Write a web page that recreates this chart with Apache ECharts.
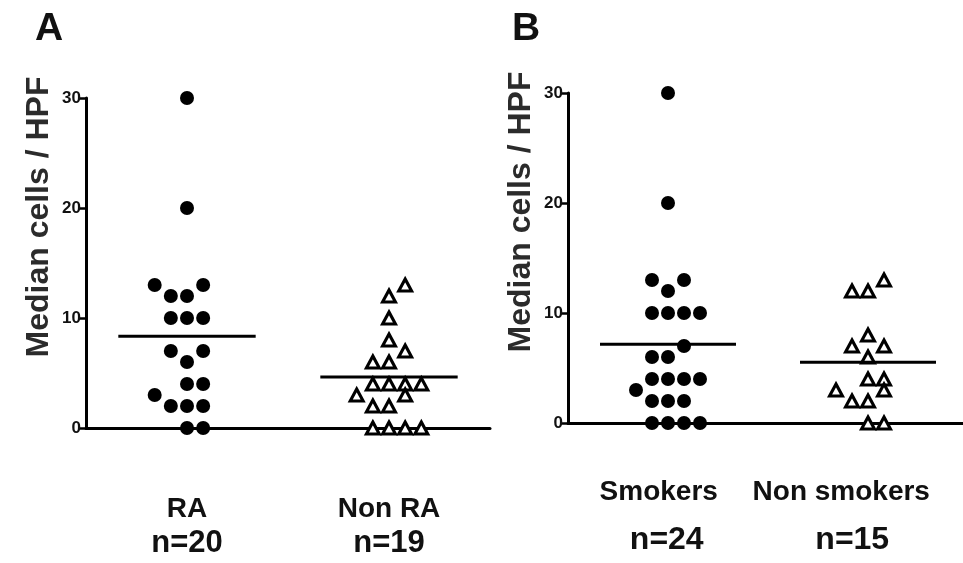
<!DOCTYPE html>
<html>
<head>
<meta charset="utf-8">
<script src="https://cdn.jsdelivr.net/npm/echarts@6/dist/echarts.min.js"></script>
<style>
html,body{margin:0;padding:0;background:#fff;}
#chart{width:963px;height:563px;}
</style>
</head>
<body>
<div id="chart"></div>
<script>
// ---- data ----
const panelLetters = ['A', 'B'];
const yAxisTitle = 'Median cells / HPF';
const yTicks = [0, 10, 20, 30];

const categoriesA = ['RA', 'Non RA'];
const countsA = ['n=20', 'n=19'];
const categoriesB = ['Smokers', 'Non smokers'];
const countsB = ['n=24', 'n=15'];

// values and their column slot in the dot plot (slot = horizontal column index)
const raValues = [30, 20, 13, 13, 12, 12, 10, 10, 10, 7, 7, 6, 4, 4, 3, 2, 2, 2, 0, 0];
const raSlots  = [0, 0, -2, 1, -1, 0, -1, 0, 1, -1, 1, 0, 0, 1, -2, -1, 0, 1, 0, 1];

const nonRaValues = [13, 12, 10, 8, 7, 6, 6, 4, 4, 4, 4, 3, 3, 2, 2, 0, 0, 0, 0];
const nonRaSlots  = [1, 0, 0, 0, 1, -1, 0, -1, 0, 1, 2, -2, 1, -1, 0, -1, 0, 1, 2];

const smokersValues = [30, 20, 13, 13, 12, 10, 10, 10, 10, 7, 6, 6, 4, 4, 4, 4, 3, 2, 2, 2, 0, 0, 0, 0];
const smokersSlots  = [0, 0, -1, 1, 0, -1, 0, 1, 2, 1, -1, 0, -1, 0, 1, 2, -2, -1, 0, 1, -1, 0, 1, 2];

const nonSmokersValues = [13, 12, 12, 8, 7, 7, 6, 4, 4, 3, 3, 2, 2, 0, 0];
const nonSmokersSlots  = [1, -1, 0, 0, -1, 1, 0, 0, 1, -2, 1, -1, 0, 0, 1];

// ---- layout / style constants ----
const SLOT = 0.16;      // column spacing in x-axis units
const HALF = 0.68;      // half length of mean line in x-axis units
const FONT = "'Liberation Sans', Arial, Helvetica, sans-serif";

const mean = a => a.reduce((s, v) => s + v, 0) / a.length;
const pts = (vals, slots, center) => vals.map((v, i) => [center + slots[i] * SLOT, v]);
const meanLine = (vals, center) => [[center - HALF, mean(vals)], [center + HALF, mean(vals)]];

const circleStyle = { symbol: 'circle', symbolSize: 14, itemStyle: { color: '#000', opacity: 1 } };
const triStyle = { symbol: 'triangle', symbolSize: [13, 12], itemStyle: { color: '#fff', borderColor: '#000', borderWidth: 3, opacity: 1 } };

function scatter(xi, yi, data, style) {
  return Object.assign({ type: 'scatter', xAxisIndex: xi, yAxisIndex: yi, data: data, clip: false, z: 3, silent: true }, style);
}
function line(xi, yi, data) {
  return { type: 'line', xAxisIndex: xi, yAxisIndex: yi, data: data, symbol: 'none', silent: true, z: 4,
    lineStyle: { color: '#000', width: 3 } };
}
function yAxis(gi) {
  return {
    gridIndex: gi, type: 'value', min: yTicks[0], max: yTicks[yTicks.length - 1], interval: 10,
    axisLine: { show: true, lineStyle: { color: '#000', width: 3 } },
    axisTick: { show: true, length: 7, lineStyle: { color: '#000', width: 2.5 } },
    axisLabel: { color: '#111', fontSize: 17, fontWeight: 'bold', fontFamily: FONT, margin: 5 },
    splitLine: { show: false },
    name: yAxisTitle, nameLocation: 'middle', nameRotate: 90, nameGap: 31,
    nameTextStyle: { color: '#2b2b2b', fontSize: 32, fontWeight: 'bold', fontFamily: FONT, padding: [0, 0, 0, 92] }
  };
}
function catAxis(gi, cats, counts, margin, rich, keys) {
  return {
    gridIndex: gi, type: 'category', data: cats, position: 'bottom', boundaryGap: true,
    axisLine: { show: true, onZero: false, lineStyle: { color: '#000', width: 3 } },
    axisTick: { show: false },
    axisLabel: {
      interval: 0, margin: margin, color: '#111', hideOverlap: false,
      formatter: (v, i) => '{' + keys[i][0] + '|' + v + '}\n{' + keys[i][1] + '|' + counts[i] + '}',
      rich: rich
    },
    splitLine: { show: false }
  };
}

const baseC = { fontSize: 28, fontWeight: 'bold', fontFamily: FONT, color: '#111' };
const baseN = { fontSize: 32, fontWeight: 'bold', fontFamily: FONT, color: '#111' };
const richA = {
  c: Object.assign({}, baseC, { lineHeight: 33 }),
  n: Object.assign({}, baseN, { fontSize: 31, lineHeight: 34 })
};
const richB = {
  c0: Object.assign({}, baseC, { lineHeight: 45, padding: [0, 16, 0, 0] }),
  c1: Object.assign({}, baseC, { lineHeight: 45, padding: [0, 46, 0, 0] }),
  n0: Object.assign({}, baseN, { lineHeight: 50 }),
  n1: Object.assign({}, baseN, { lineHeight: 50, padding: [0, 24, 0, 0] })
};

const option = {
  animation: false,
  backgroundColor: '#fff',
  title: [
    { text: panelLetters[0], left: 30, top: 5, textStyle: { fontSize: 39, fontWeight: 'bold', fontFamily: FONT, color: '#111' } },
    { text: panelLetters[1], left: 507, top: 5, textStyle: { fontSize: 39, fontWeight: 'bold', fontFamily: FONT, color: '#111' } }
  ],
  grid: [
    { left: 86, top: 98, width: 404, height: 330, outerBoundsMode: 'none', containLabel: false },
    { left: 568, top: 93, width: 395, height: 330, outerBoundsMode: 'none', containLabel: false }
  ],
  xAxis: [
    { gridIndex: 0, type: 'value', min: 0, max: 4, show: false },
    catAxis(0, categoriesA, countsA, 65, richA, [['c', 'n'], ['c', 'n']]),
    { gridIndex: 1, type: 'value', min: 0, max: 3.95, show: false },
    catAxis(1, categoriesB, countsB, 47, richB, [['c0', 'n0'], ['c1', 'n1']])
  ],
  yAxis: [yAxis(0), yAxis(1)],
  series: [
    scatter(0, 0, pts(raValues, raSlots, 1), circleStyle),
    scatter(0, 0, pts(nonRaValues, nonRaSlots, 3), triStyle),
    line(0, 0, meanLine(raValues, 1)),
    line(0, 0, meanLine(nonRaValues, 3)),
    scatter(2, 1, pts(smokersValues, smokersSlots, 1), circleStyle),
    scatter(2, 1, pts(nonSmokersValues, nonSmokersSlots, 3), triStyle),
    line(2, 1, meanLine(smokersValues, 1)),
    line(2, 1, meanLine(nonSmokersValues, 3))
  ]
};

const chart = echarts.init(document.getElementById('chart'), null, { renderer: 'canvas' });
chart.setOption(option);
</script>
</body>
</html>
